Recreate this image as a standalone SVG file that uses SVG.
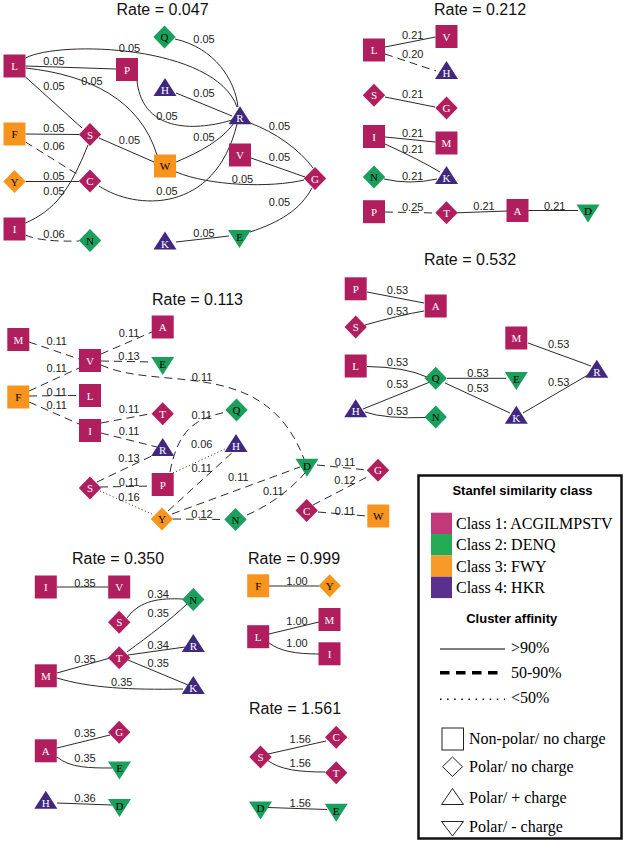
<svg xmlns="http://www.w3.org/2000/svg" width="627" height="849" viewBox="0 0 627 849">
<style>
.n1{fill:#b01e5e}.n2{fill:#1a9f5c}.n3{fill:#f7941d}.n4{fill:#40287f}
.lw{fill:#fff;font-family:"Liberation Serif",serif;font-size:11px;text-anchor:middle}
.lb{fill:#000;font-family:"Liberation Serif",serif;font-size:11px;text-anchor:middle}
.e{fill:none;stroke:#2a2a2a;stroke-width:1}
.d{stroke-dasharray:8,5}
.o{stroke-dasharray:1,2.5}
.el{font-family:"Liberation Sans",Arial,sans-serif;font-size:11px;fill:#222;text-anchor:middle}
.t{font-family:"Liberation Sans",Arial,sans-serif;font-size:16px;fill:#111;text-anchor:middle}
.lh{font-family:"Liberation Sans",Arial,sans-serif;font-size:13px;font-weight:bold;fill:#000;text-anchor:middle}
.lt{font-family:"Liberation Serif","Times New Roman",serif;font-size:16px;fill:#000}
.ls{fill:#fff;stroke:#222;stroke-width:1}
</style>
<defs>
<path id="sq" d="M-11,-11.5h22v23h-22z"/>
<path id="di" d="M0,-11.5L11.2,0L0,11.5L-11.2,0z"/>
<path id="tu" d="M0,-9L11.5,9L-11.5,9z"/>
<path id="td" d="M-11.5,-9L11.5,-9L0,9z"/>
</defs>

<g id="titles">
<text class="t" x="162.5" y="15">Rate = 0.047</text>
<text class="t" x="480" y="15">Rate = 0.212</text>
<text class="t" x="470" y="265">Rate = 0.532</text>
<text class="t" x="197.5" y="305">Rate = 0.113</text>
<text class="t" x="118" y="564">Rate = 0.350</text>
<text class="t" x="294" y="563.5">Rate = 0.999</text>
<text class="t" x="295" y="713.5">Rate = 1.561</text>
</g>

<g id="connectors">
<!-- 0.047 -->
<path class="e" d="M175,39C215,48 235,80 238,107"/>
<path class="e" d="M25.5,58C60,40 215,45 237,107"/>
<path class="e" d="M25.5,66L116,69"/>
<path class="e" d="M25.5,68C90,75 140,100 157,155"/>
<path class="e" d="M25.5,77L82,128"/>
<path class="e" d="M137,81C143,135 200,130 232,120"/>
<path class="e" d="M176,93L232,116"/>
<path class="e" d="M25.5,134L79,134.5"/>
<path class="e d" d="M25.5,142L80,176"/>
<path class="e" d="M99,138L154,162"/>
<path class="e" d="M176,162C200,152 222,140 234,123"/>
<path class="e" d="M25.5,181.5L79,181.5"/>
<path class="e" d="M25.5,223C55,210 70,190 88,145"/>
<path class="e d" d="M25.5,235Q40,242 79,241"/>
<path class="e" d="M99,186C135,210 215,215 237,124"/>
<path class="e" d="M176,172C210,186 270,188 304,180"/>
<path class="e" d="M251,158L305,177"/>
<path class="e" d="M250,123C275,132 300,150 313,168"/>
<path class="e" d="M312,188C300,210 280,222 250,232"/>
<path class="e" d="M176,242L229,236"/>
<!-- 0.212 -->
<path class="e" d="M385,47L435.5,37"/>
<path class="e d" d="M385,54L436,71"/>
<path class="e" d="M385,97L435,107"/>
<path class="e" d="M385,137L435.5,142"/>
<path class="e" d="M385,144Q420,160 440,172"/>
<path class="e" d="M384,179Q410,185 437,179"/>
<path class="e d" d="M385,212L435.5,213"/>
<path class="e" d="M457,212.8L507,211"/>
<path class="e" d="M528,210.5L578,210.5"/>
<!-- 0.532 -->
<path class="e" d="M367,292L424,303"/>
<path class="e" d="M365,325Q400,315 424,311"/>
<path class="e" d="M367,366.5Q405,367 427,377"/>
<path class="e" d="M363,409L430,382"/>
<path class="e" d="M365,412Q385,419 427,417.5"/>
<path class="e" d="M447,378.3L506,378.3"/>
<path class="e" d="M445,383L510,413"/>
<path class="e" d="M528,343L591,366"/>
<path class="e" d="M523,413L593,372"/>
<!-- 0.113 -->
<path class="e d" d="M29,342L79,359"/>
<path class="e d" d="M29,391L79,368"/>
<path class="e d" d="M29,396L79,395.5"/>
<path class="e d" d="M29,402L79,424"/>
<path class="e d" d="M101,354L152,332"/>
<path class="e d" d="M101,361L153,362"/>
<path class="e d" d="M101,365C160,392 265,355 304,459"/>
<path class="e d" d="M101,423L152,413.5"/>
<path class="e d" d="M101,433L157,447"/>
<path class="e d" d="M97,482L158,453"/>
<path class="e d" d="M100,487L152,486"/>
<path class="e o" d="M100,491L154,515"/>
<path class="e d" d="M170,472C178,430 195,418 227,412"/>
<path class="e o" d="M173,473L227,448"/>
<path class="e d" d="M168,511L234,451"/>
<path class="e d" d="M172,514L300,467"/>
<path class="e d" d="M173,519L224,519.5"/>
<path class="e d" d="M247,515C270,505 290,490 305,473"/>
<path class="e d" d="M317,465L367,470"/>
<path class="e d" d="M313,505L369,476"/>
<path class="e d" d="M318,512L367,516"/>
<!-- 0.350 -->
<path class="e" d="M56.7,587L108.3,587"/>
<path class="e" d="M127,618C140,600 160,598 183,599"/>
<path class="e" d="M127,652C150,635 170,620 187,604"/>
<path class="e" d="M57,673L110,658"/>
<path class="e" d="M128,655L185,647"/>
<path class="e" d="M128,660L188,685"/>
<path class="e" d="M57,678C90,688 130,690 183,689"/>
<path class="e" d="M57,748L110,735"/>
<path class="e" d="M57,757C70,768 90,768 112,768"/>
<path class="e" d="M57,803L112,805"/>
<!-- 0.999 -->
<path class="e" d="M269,586L319,586"/>
<path class="e" d="M269,634L319,622"/>
<path class="e" d="M269,643C280,651 295,654 319,654"/>
<!-- 1.561 -->
<path class="e" d="M268,754L326,741"/>
<path class="e" d="M267,760C280,770 300,772 325,772"/>
<path class="e" d="M268,807.5L327,809.5"/>
</g>

<g id="edge-labels">
<text class="el" x="204" y="43">0.05</text>
<text class="el" x="129.5" y="52">0.05</text>
<text class="el" x="54" y="65">0.05</text>
<text class="el" x="54" y="90">0.05</text>
<text class="el" x="92" y="85">0.05</text>
<text class="el" x="204" y="97">0.05</text>
<text class="el" x="167" y="120">0.05</text>
<text class="el" x="54" y="132">0.05</text>
<text class="el" x="54" y="150">0.06</text>
<text class="el" x="129.5" y="144">0.05</text>
<text class="el" x="204" y="141">0.05</text>
<text class="el" x="279.5" y="130">0.05</text>
<text class="el" x="279.5" y="161">0.05</text>
<text class="el" x="242.5" y="183">0.05</text>
<text class="el" x="54" y="180">0.05</text>
<text class="el" x="54" y="195">0.05</text>
<text class="el" x="167" y="195">0.05</text>
<text class="el" x="279.5" y="206">0.05</text>
<text class="el" x="204" y="237">0.05</text>
<text class="el" x="54" y="238">0.06</text>

<text class="el" x="412.7" y="39">0.21</text>
<text class="el" x="412.7" y="58">0.20</text>
<text class="el" x="412.7" y="98">0.21</text>
<text class="el" x="412.7" y="137">0.21</text>
<text class="el" x="412.7" y="153">0.21</text>
<text class="el" x="412.7" y="180">0.21</text>
<text class="el" x="412.7" y="211">0.25</text>
<text class="el" x="484" y="210">0.21</text>
<text class="el" x="554.7" y="210">0.21</text>

<text class="el" x="397.5" y="294">0.53</text>
<text class="el" x="397.5" y="315">0.53</text>
<text class="el" x="397.5" y="366">0.53</text>
<text class="el" x="397.5" y="388">0.53</text>
<text class="el" x="397.5" y="415">0.53</text>
<text class="el" x="478" y="376.7">0.53</text>
<text class="el" x="478" y="391.7">0.53</text>
<text class="el" x="558.7" y="348.3">0.53</text>
<text class="el" x="558.7" y="386">0.53</text>

<text class="el" x="56.7" y="345">0.11</text>
<text class="el" x="56.7" y="371.7">0.11</text>
<text class="el" x="56.7" y="395.7">0.11</text>
<text class="el" x="56.7" y="409.3">0.11</text>
<text class="el" x="129" y="336.7">0.11</text>
<text class="el" x="129" y="360">0.13</text>
<text class="el" x="202" y="381">0.11</text>
<text class="el" x="129" y="413.3">0.11</text>
<text class="el" x="129" y="435">0.11</text>
<text class="el" x="129" y="461.7">0.13</text>
<text class="el" x="129" y="486">0.11</text>
<text class="el" x="129" y="500.7">0.16</text>
<text class="el" x="201.7" y="419">0.11</text>
<text class="el" x="201.7" y="448.3">0.06</text>
<text class="el" x="201.7" y="472.3">0.11</text>
<text class="el" x="238.3" y="481">0.11</text>
<text class="el" x="202" y="518.3">0.12</text>
<text class="el" x="273.3" y="495">0.11</text>
<text class="el" x="345" y="466">0.11</text>
<text class="el" x="345" y="484">0.12</text>
<text class="el" x="345" y="515">0.11</text>

<text class="el" x="85" y="586.7">0.35</text>
<text class="el" x="158.3" y="598.3">0.34</text>
<text class="el" x="158.3" y="617.3">0.35</text>
<text class="el" x="85" y="663.3">0.35</text>
<text class="el" x="158.3" y="649.3">0.34</text>
<text class="el" x="158.3" y="667.3">0.35</text>
<text class="el" x="121.8" y="685.7">0.35</text>
<text class="el" x="85" y="737.3">0.35</text>
<text class="el" x="85" y="762">0.35</text>
<text class="el" x="85" y="802.3">0.36</text>

<text class="el" x="297" y="585">1.00</text>
<text class="el" x="297" y="625">1.00</text>
<text class="el" x="297" y="647.3">1.00</text>

<text class="el" x="300.3" y="743.3">1.56</text>
<text class="el" x="300.3" y="766.7">1.56</text>
<text class="el" x="300.3" y="807.3">1.56</text>
</g>

<!-- Nodes: Rate 0.047 -->
<g id="a-L"><use href="#sq" x="14.5" y="66" class="n1"/><text class="lw" x="14.5" y="70">L</text></g>
<g id="a-P"><use href="#sq" x="127" y="69.5" class="n1"/><text class="lw" x="127" y="73.5">P</text></g>
<g id="a-Q"><use href="#di" x="164.5" y="37" class="n2"/><text class="lb" x="164.5" y="41">Q</text></g>
<g id="a-H"><use href="#tu" x="165" y="87" class="n4"/><text class="lw" x="165" y="94">H</text></g>
<g id="a-R"><use href="#tu" x="240" y="115.3" class="n4"/><text class="lw" x="240" y="122.3">R</text></g>
<g id="a-F"><use href="#sq" x="14.5" y="134" class="n3"/><text class="lb" x="14.5" y="138">F</text></g>
<g id="a-S"><use href="#di" x="90" y="134.5" class="n1"/><text class="lw" x="90" y="138.5">S</text></g>
<g id="a-W"><use href="#sq" x="165" y="166" class="n3"/><text class="lb" x="165" y="170">W</text></g>
<g id="a-V"><use href="#sq" x="240" y="155" class="n1"/><text class="lw" x="240" y="159">V</text></g>
<g id="a-G"><use href="#di" x="315" y="178.5" class="n1"/><text class="lw" x="315" y="182.5">G</text></g>
<g id="a-Y"><use href="#di" x="14.5" y="181.5" class="n3"/><text class="lb" x="14.5" y="185.5">Y</text></g>
<g id="a-C"><use href="#di" x="90" y="181" class="n1"/><text class="lw" x="90" y="185">C</text></g>
<g id="a-I"><use href="#sq" x="14.5" y="229" class="n1"/><text class="lw" x="14.5" y="233">I</text></g>
<g id="a-N"><use href="#di" x="90" y="240.5" class="n2"/><text class="lb" x="90" y="244.5">N</text></g>
<g id="a-K"><use href="#tu" x="165" y="240.5" class="n4"/><text class="lw" x="165" y="247.5">K</text></g>
<g id="a-E"><use href="#td" x="239.5" y="239" class="n2"/><text class="lb" x="239.5" y="240.7">E</text></g>

<!-- Rate 0.212 -->
<g id="b-L"><use href="#sq" x="374" y="50" class="n1"/><text class="lw" x="374" y="54">L</text></g>
<g id="b-V"><use href="#sq" x="446.5" y="36.5" class="n1"/><text class="lw" x="446.5" y="40.5">V</text></g>
<g id="b-H"><use href="#tu" x="446.5" y="70" class="n4"/><text class="lw" x="446.5" y="77">H</text></g>
<g id="b-S"><use href="#di" x="374" y="95.3" class="n1"/><text class="lw" x="374" y="99.3">S</text></g>
<g id="b-G"><use href="#di" x="446.5" y="108" class="n1"/><text class="lw" x="446.5" y="112">G</text></g>
<g id="b-I"><use href="#sq" x="374" y="136.5" class="n1"/><text class="lw" x="374" y="140.5">I</text></g>
<g id="b-M"><use href="#sq" x="446.5" y="143" class="n1"/><text class="lw" x="446.5" y="147">M</text></g>
<g id="b-N"><use href="#di" x="374" y="177" class="n2"/><text class="lb" x="374" y="181">N</text></g>
<g id="b-K"><use href="#tu" x="446.5" y="175" class="n4"/><text class="lw" x="446.5" y="182">K</text></g>
<g id="b-P"><use href="#sq" x="374" y="211.7" class="n1"/><text class="lw" x="374" y="215.7">P</text></g>
<g id="b-T"><use href="#di" x="446.5" y="212.8" class="n1"/><text class="lw" x="446.5" y="216.8">T</text></g>
<g id="b-A"><use href="#sq" x="517.5" y="210.5" class="n1"/><text class="lw" x="517.5" y="214.5">A</text></g>
<g id="b-D"><use href="#td" x="588" y="213.5" class="n2"/><text class="lb" x="588" y="215.2">D</text></g>

<!-- Rate 0.532 -->
<g id="c-P"><use href="#sq" x="355.7" y="288.8" class="n1"/><text class="lw" x="355.7" y="292.8">P</text></g>
<g id="c-A"><use href="#sq" x="435.7" y="306" class="n1"/><text class="lw" x="435.7" y="310">A</text></g>
<g id="c-S"><use href="#di" x="355.7" y="327" class="n1"/><text class="lw" x="355.7" y="331">S</text></g>
<g id="c-M"><use href="#sq" x="516.3" y="338" class="n1"/><text class="lw" x="516.3" y="342">M</text></g>
<g id="c-L"><use href="#sq" x="355.7" y="366" class="n1"/><text class="lw" x="355.7" y="370">L</text></g>
<g id="c-Q"><use href="#di" x="435.7" y="378.3" class="n2"/><text class="lb" x="435.7" y="382.3">Q</text></g>
<g id="c-E"><use href="#td" x="516.3" y="381" class="n2"/><text class="lb" x="516.3" y="382.7">E</text></g>
<g id="c-R"><use href="#tu" x="596.8" y="368.8" class="n4"/><text class="lw" x="596.8" y="375.8">R</text></g>
<g id="c-H"><use href="#tu" x="355.7" y="408.3" class="n4"/><text class="lw" x="355.7" y="415.3">H</text></g>
<g id="c-N"><use href="#di" x="435.7" y="417" class="n2"/><text class="lb" x="435.7" y="421">N</text></g>
<g id="c-K"><use href="#tu" x="516.3" y="414.7" class="n4"/><text class="lw" x="516.3" y="421.7">K</text></g>

<!-- Rate 0.113 -->
<g id="d-M"><use href="#sq" x="18.3" y="339.5" class="n1"/><text class="lw" x="18.3" y="343.5">M</text></g>
<g id="d-V"><use href="#sq" x="90" y="360.5" class="n1"/><text class="lw" x="90" y="364.5">V</text></g>
<g id="d-A"><use href="#sq" x="162.7" y="327" class="n1"/><text class="lw" x="162.7" y="331">A</text></g>
<g id="d-E"><use href="#td" x="162.7" y="366" class="n2"/><text class="lb" x="162.7" y="367.7">E</text></g>
<g id="d-F"><use href="#sq" x="18.3" y="397" class="n3"/><text class="lb" x="18.3" y="401">F</text></g>
<g id="d-L"><use href="#sq" x="90" y="395.5" class="n1"/><text class="lw" x="90" y="399.5">L</text></g>
<g id="d-I"><use href="#sq" x="90" y="430.5" class="n1"/><text class="lw" x="90" y="434.5">I</text></g>
<g id="d-T"><use href="#di" x="162.7" y="413.7" class="n1"/><text class="lw" x="162.7" y="417.7">T</text></g>
<g id="d-R"><use href="#tu" x="162.7" y="447" class="n4"/><text class="lw" x="162.7" y="454">R</text></g>
<g id="d-S"><use href="#di" x="90" y="488" class="n1"/><text class="lw" x="90" y="492">S</text></g>
<g id="d-P"><use href="#sq" x="162.7" y="484.5" class="n1"/><text class="lw" x="162.7" y="488.5">P</text></g>
<g id="d-Q"><use href="#di" x="236.5" y="410" class="n2"/><text class="lb" x="236.5" y="414">Q</text></g>
<g id="d-H"><use href="#tu" x="236" y="443" class="n4"/><text class="lw" x="236" y="450">H</text></g>
<g id="d-D"><use href="#td" x="307" y="467.8" class="n2"/><text class="lb" x="307" y="469.5">D</text></g>
<g id="d-G"><use href="#di" x="378" y="470.3" class="n1"/><text class="lw" x="378" y="474.3">G</text></g>
<g id="d-Y"><use href="#di" x="162" y="519" class="n3"/><text class="lb" x="162" y="523">Y</text></g>
<g id="d-N"><use href="#di" x="235.5" y="519.5" class="n2"/><text class="lb" x="235.5" y="523.5">N</text></g>
<g id="d-C"><use href="#di" x="306.7" y="510.5" class="n1"/><text class="lw" x="306.7" y="514.5">C</text></g>
<g id="d-W"><use href="#sq" x="378.3" y="516" class="n3"/><text class="lb" x="378.3" y="520">W</text></g>

<!-- Rate 0.350 -->
<g id="e-I"><use href="#sq" x="45.8" y="587" class="n1"/><text class="lw" x="45.8" y="591">I</text></g>
<g id="e-V"><use href="#sq" x="119.2" y="587" class="n1"/><text class="lw" x="119.2" y="591">V</text></g>
<g id="e-N"><use href="#di" x="193.3" y="599.5" class="n2"/><text class="lb" x="193.3" y="603.5">N</text></g>
<g id="e-S"><use href="#di" x="119.2" y="622.3" class="n1"/><text class="lw" x="119.2" y="626.3">S</text></g>
<g id="e-R"><use href="#tu" x="193.3" y="643" class="n4"/><text class="lw" x="193.3" y="650">R</text></g>
<g id="e-T"><use href="#di" x="119.2" y="657.7" class="n1"/><text class="lw" x="119.2" y="661.7">T</text></g>
<g id="e-M"><use href="#sq" x="45.8" y="675.8" class="n1"/><text class="lw" x="45.8" y="679.8">M</text></g>
<g id="e-K"><use href="#tu" x="193.3" y="685" class="n4"/><text class="lw" x="193.3" y="692">K</text></g>
<g id="e-G"><use href="#di" x="119.2" y="732.2" class="n1"/><text class="lw" x="119.2" y="736.2">G</text></g>
<g id="e-A"><use href="#sq" x="45.8" y="750.8" class="n1"/><text class="lw" x="45.8" y="754.8">A</text></g>
<g id="e-E"><use href="#td" x="119.5" y="770.5" class="n2"/><text class="lb" x="119.5" y="772.2">E</text></g>
<g id="e-H"><use href="#tu" x="45.8" y="799.7" class="n4"/><text class="lw" x="45.8" y="806.7">H</text></g>
<g id="e-D"><use href="#td" x="119.5" y="808" class="n2"/><text class="lb" x="119.5" y="809.7">D</text></g>

<!-- Rate 0.999 -->
<g id="f-F"><use href="#sq" x="258.2" y="585.8" class="n3"/><text class="lb" x="258.2" y="589.8">F</text></g>
<g id="f-Y"><use href="#di" x="329.7" y="585.8" class="n3"/><text class="lb" x="329.7" y="589.8">Y</text></g>
<g id="f-M"><use href="#sq" x="329.5" y="619.5" class="n1"/><text class="lw" x="329.5" y="623.5">M</text></g>
<g id="f-L"><use href="#sq" x="258.2" y="636.7" class="n1"/><text class="lw" x="258.2" y="640.7">L</text></g>
<g id="f-I"><use href="#sq" x="329.5" y="653.8" class="n1"/><text class="lw" x="329.5" y="657.8">I</text></g>

<!-- Rate 1.561 -->
<g id="g-C"><use href="#di" x="336.2" y="737.2" class="n1"/><text class="lw" x="336.2" y="741.2">C</text></g>
<g id="g-S"><use href="#di" x="260.5" y="757" class="n1"/><text class="lw" x="260.5" y="761">S</text></g>
<g id="g-T"><use href="#di" x="336.2" y="772.8" class="n1"/><text class="lw" x="336.2" y="776.8">T</text></g>
<g id="g-D"><use href="#td" x="260.5" y="810.5" class="n2"/><text class="lb" x="260.5" y="812.2">D</text></g>
<g id="g-E"><use href="#td" x="336.2" y="812.8" class="n2"/><text class="lb" x="336.2" y="814.5">E</text></g>

<!-- Legend -->
<g id="legend">
<rect x="418.5" y="475.5" width="203" height="363" fill="#fff" stroke="#111" stroke-width="2.5"/>
<text class="lh" x="522.5" y="494.5">Stanfel similarity class</text>
<rect x="431" y="512.7" width="21" height="21.4" fill="#c2397a"/>
<rect x="431" y="534" width="21" height="21.4" fill="#22aa55"/>
<rect x="431" y="555.3" width="21" height="21.4" fill="#f79a2a"/>
<rect x="431" y="576.7" width="21" height="21.4" fill="#5a2f8e"/>
<text class="lt" x="456" y="529">Class 1: ACGILMPSTV</text>
<text class="lt" x="456" y="550.3">Class 2: DENQ</text>
<text class="lt" x="456" y="571.6">Class 3: FWY</text>
<text class="lt" x="456" y="592.9">Class 4: HKR</text>
<text class="lh" x="511.7" y="622.7">Cluster affinity</text>
<line x1="440" y1="649" x2="505" y2="649" stroke="#000" stroke-width="1"/>
<text class="lt" x="511" y="653">&gt;90%</text>
<line x1="440" y1="672.7" x2="499" y2="672.7" stroke="#000" stroke-width="3.5" stroke-dasharray="9.5,6.5"/>
<text class="lt" x="511" y="678.3">50-90%</text>
<line x1="440" y1="699.3" x2="505" y2="699.3" stroke="#000" stroke-width="1.5" stroke-dasharray="1.5,5.6"/>
<text class="lt" x="511" y="703.3">&lt;50%</text>
<rect class="ls" x="442" y="728" width="21.5" height="22"/>
<text class="lt" x="469" y="744">Non-polar/ no charge</text>
<path class="ls" d="M452.5,757L462.5,766.7L452.5,776.4L442.5,766.7z"/>
<text class="lt" x="469" y="771.7">Polar/ no charge</text>
<path class="ls" d="M452.5,788.5L463.5,804.5L441.5,804.5z"/>
<text class="lt" x="469" y="802.7">Polar/ + charge</text>
<path class="ls" d="M441.5,821.5L463.5,821.5L452.5,836z"/>
<text class="lt" x="469" y="831.7">Polar/ - charge</text>
</g>
</svg>
